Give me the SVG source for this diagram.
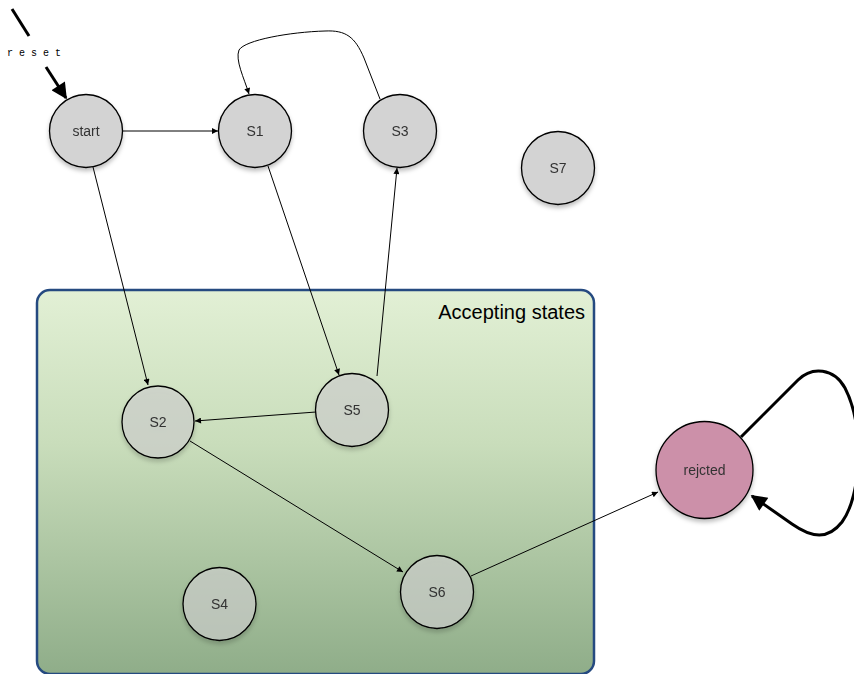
<svg xmlns="http://www.w3.org/2000/svg" width="854" height="674" viewBox="0 0 854 674">
<style>
.node circle{stroke:#000;stroke-width:1.3}
.gray{fill:#d3d3d3}
.ingrp{fill:#d3d3d3;fill-opacity:0.62}
.lbl{font-family:"Liberation Sans",Arial,sans-serif;font-size:14px;fill:#333;text-anchor:middle}
.edge{fill:none;stroke:#000;stroke-width:1}
.thick{fill:none;stroke:#000;stroke-width:3}
</style>
<defs>
<linearGradient id="bg" x1="0" y1="0" x2="0" y2="1">
<stop offset="0" stop-color="#e2f0d5"/>
<stop offset="0.4" stop-color="#c9ddbb"/>
<stop offset="1" stop-color="#8fad89"/>
</linearGradient>
<filter id="sh" x="-20%" y="-20%" width="140%" height="150%">
<feDropShadow dx="0" dy="3" stdDeviation="2" flood-color="#000" flood-opacity="0.25"/>
</filter>
<marker id="a" viewBox="0 0 10 10" refX="10" refY="5" markerWidth="8" markerHeight="6" markerUnits="userSpaceOnUse" orient="auto">
<path d="M0,0 L10,5 L0,10 z" fill="#000"/>
</marker>
<marker id="A" viewBox="0 0 10 10" refX="9" refY="5" markerWidth="20" markerHeight="16" markerUnits="userSpaceOnUse" orient="auto">
<path d="M0,0 L10,5 L0,10 z" fill="#000"/>
</marker>
</defs>

<g id="accepting-states">
<rect x="37" y="290" width="557" height="384" rx="13" fill="url(#bg)" stroke="#254a80" stroke-width="2.5"/>
<text x="585" y="319" font-family="Liberation Sans,Arial,sans-serif" font-size="20" text-anchor="end" fill="#000">Accepting states</text>
</g>

<g id="connectors">
<line class="thick" x1="12" y1="9" x2="29" y2="36" stroke-width="2.5"/>
<text x="37" y="56" font-family="Liberation Mono,monospace" font-size="10" letter-spacing="6" text-anchor="middle" fill="#000">reset</text>
<line class="thick" x1="46" y1="67" x2="66" y2="98" stroke-width="2.5" marker-end="url(#A)"/>
<line class="edge" x1="122" y1="131" x2="218" y2="131" marker-end="url(#a)"/>
<line class="edge" x1="93" y1="167" x2="148" y2="385" marker-end="url(#a)"/>
<line class="edge" x1="268" y1="166" x2="339" y2="375" marker-end="url(#a)"/>
<line class="edge" x1="377" y1="376" x2="397" y2="168" marker-end="url(#a)"/>
<line class="edge" x1="316" y1="412" x2="195" y2="421" marker-end="url(#a)"/>
<line class="edge" x1="190" y1="441" x2="403" y2="572" marker-end="url(#a)"/>
<line class="edge" x1="471" y1="576" x2="658" y2="492" marker-end="url(#a)"/>
<path class="edge" d="M380,99 L364,58 C355,37 346,30 325,31 C290,32 245,40 239,50 C235,60 244,78 249,94" marker-end="url(#a)"/>
<path class="thick" d="M741,437 L798,380 C812,366 834,368 845,388 C864,425 862,495 842,522 C828,540 812,538 792,524 L752,496" marker-end="url(#A)"/>
</g>

<g id="start" class="node" filter="url(#sh)"><circle class="gray" cx="86" cy="131" r="36.5"/><text class="lbl" x="86" y="136">start</text></g>
<g id="S1" class="node" filter="url(#sh)"><circle class="gray" cx="255" cy="131" r="36.5"/><text class="lbl" x="255" y="136">S1</text></g>
<g id="S3" class="node" filter="url(#sh)"><circle class="gray" cx="400" cy="131" r="36.5"/><text class="lbl" x="400" y="136">S3</text></g>
<g id="S7" class="node" filter="url(#sh)"><circle class="gray" cx="558" cy="168" r="36.5"/><text class="lbl" x="558" y="173">S7</text></g>
<g id="S2" class="node" filter="url(#sh)"><circle class="ingrp" cx="158" cy="422" r="36"/><text class="lbl" x="158" y="427">S2</text></g>
<g id="S5" class="node" filter="url(#sh)"><circle class="ingrp" cx="352" cy="410" r="36.5"/><text class="lbl" x="352" y="415">S5</text></g>
<g id="S4" class="node" filter="url(#sh)"><circle class="ingrp" cx="219.5" cy="604" r="36.5"/><text class="lbl" x="219.5" y="609">S4</text></g>
<g id="S6" class="node" filter="url(#sh)"><circle class="ingrp" cx="437" cy="592" r="36.5"/><text class="lbl" x="437" y="597">S6</text></g>
<g id="rejcted" class="node" filter="url(#sh)"><circle cx="704.5" cy="470" r="48.5" fill="#cc90a9"/><text class="lbl" x="704.5" y="475">rejcted</text></g>
</svg>
